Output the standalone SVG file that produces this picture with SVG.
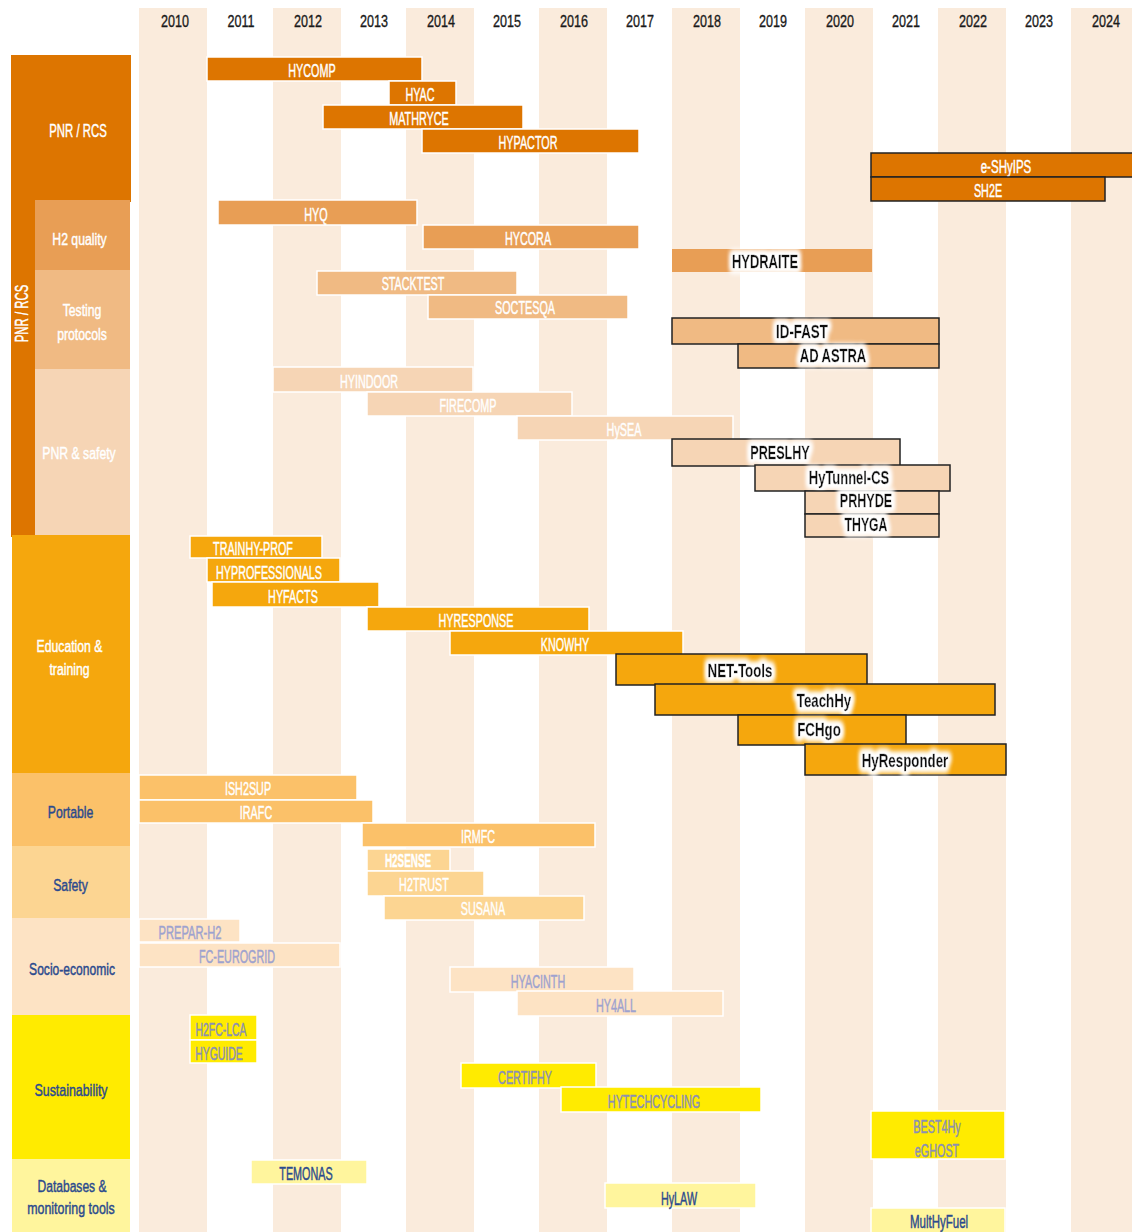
<svg xmlns="http://www.w3.org/2000/svg" width="1132" height="1232" viewBox="0 0 1132 1232">
<style>
.col{fill:#FAEBDC}
.yr{font-family:"Liberation Sans",Arial,sans-serif;font-size:17px;fill:#1a1a1a;stroke:#1a1a1a;stroke-width:.35;text-anchor:middle}
.t{font-family:"Liberation Sans",Arial,sans-serif;font-size:18px;text-anchor:middle}
.c{font-family:"Liberation Sans",Arial,sans-serif;font-size:17px;text-anchor:middle}
.w{fill:#ffffff;stroke:#ffffff;stroke-width:.45}
.n{fill:#2B4A8E;stroke:#2B4A8E;stroke-width:.45}
.l{fill:#9DA2CF;stroke:#9DA2CF;stroke-width:.45}
.s{fill:#8A8FB5;stroke:#8A8FB5;stroke-width:.45}
.b{fill:#111111;stroke:#111111;stroke-width:.3;font-weight:bold;filter:url(#glow)}
.bar{stroke:#ffffff;stroke-width:1.5}
.bk{stroke:#222222;stroke-width:1.5}
.o1{fill:#DD7500}.o2{fill:#E89E55}.o3{fill:#F0BA83}.o4{fill:#F6D5B5}
.ed{fill:#F5A70D}.po{fill:#FBC169}.sa{fill:#FCD592}.so{fill:#FDE3C4}
.su{fill:#FFEB00}.db{fill:#FFF59D}
</style>
<defs>
<filter id="glow" x="-25%" y="-60%" width="150%" height="220%">
<feMorphology in="SourceAlpha" operator="dilate" radius="2.5" result="d"/>
<feGaussianBlur in="d" stdDeviation="3" result="bl"/>
<feFlood flood-color="#ffffff" flood-opacity="1"/>
<feComposite in2="bl" operator="in" result="g"/>
<feMerge><feMergeNode in="g"/><feMergeNode in="g"/><feMergeNode in="g"/><feMergeNode in="SourceGraphic"/></feMerge>
</filter>
</defs>
<rect width="1132" height="1232" fill="#ffffff"/>
<g id="year-columns">
<rect class="col" x="139" y="8" width="68" height="1224"/>
<rect class="col" x="273" y="8" width="68" height="1224"/>
<rect class="col" x="406" y="8" width="68" height="1224"/>
<rect class="col" x="539" y="8" width="68" height="1224"/>
<rect class="col" x="672" y="8" width="68" height="1224"/>
<rect class="col" x="805" y="8" width="68" height="1224"/>
<rect class="col" x="938" y="8" width="68" height="1224"/>
<rect class="col" x="1071" y="8" width="61" height="1224"/>
</g>
<g id="years">
<text class="yr" transform="translate(175 27) scale(.74 1)">2010</text>
<text class="yr" transform="translate(241 27) scale(.74 1)">2011</text>
<text class="yr" transform="translate(308 27) scale(.74 1)">2012</text>
<text class="yr" transform="translate(374 27) scale(.74 1)">2013</text>
<text class="yr" transform="translate(441 27) scale(.74 1)">2014</text>
<text class="yr" transform="translate(507 27) scale(.74 1)">2015</text>
<text class="yr" transform="translate(574 27) scale(.74 1)">2016</text>
<text class="yr" transform="translate(640 27) scale(.74 1)">2017</text>
<text class="yr" transform="translate(707 27) scale(.74 1)">2018</text>
<text class="yr" transform="translate(773 27) scale(.74 1)">2019</text>
<text class="yr" transform="translate(840 27) scale(.74 1)">2020</text>
<text class="yr" transform="translate(906 27) scale(.74 1)">2021</text>
<text class="yr" transform="translate(973 27) scale(.74 1)">2022</text>
<text class="yr" transform="translate(1039 27) scale(.74 1)">2023</text>
<text class="yr" transform="translate(1106 27) scale(.74 1)">2024</text>
</g>
<g id="categories">
<g id="cat-pnr-rcs">
<rect class="o1" x="11" y="55" width="120" height="147"/>
<rect class="o1" x="11" y="200" width="24" height="337"/>
<text class="c w" style="font-size:17.5px" transform="translate(78 137) scale(.65 1)">PNR / RCS</text>
<text class="c w" style="font-size:17.5px" transform="translate(28 313.5) rotate(-90) scale(.65 1)">PNR / RCS</text>
</g>
<g id="cat-h2-quality">
<rect class="o2" x="35" y="200" width="95" height="70"/>
<text class="c w" transform="translate(79.5 245) scale(.72 1)">H2 quality</text>
</g>
<g id="cat-testing">
<rect class="o3" x="35" y="270" width="95" height="99"/>
<text class="c w" transform="translate(82 315.5) scale(.72 1)">Testing</text>
<text class="c w" transform="translate(82 339.5) scale(.72 1)">protocols</text>
</g>
<g id="cat-pnr-safety">
<rect class="o4" x="35" y="369" width="95" height="167"/>
<text class="c w" transform="translate(79 459) scale(.72 1)">PNR &amp; safety</text>
</g>
<g id="cat-education">
<rect class="ed" x="12" y="535" width="118" height="238"/>
<text class="c w" transform="translate(69.5 652) scale(.72 1)">Education &amp;</text>
<text class="c w" transform="translate(69.5 675) scale(.72 1)">training</text>
</g>
<g id="cat-portable">
<rect class="po" x="12" y="773" width="118" height="73"/>
<text class="c n" transform="translate(70.5 818) scale(.72 1)">Portable</text>
</g>
<g id="cat-safety">
<rect class="sa" x="12" y="846" width="118" height="72"/>
<text class="c n" transform="translate(70.5 891) scale(.72 1)">Safety</text>
</g>
<g id="cat-socio">
<rect class="so" x="12" y="918" width="118" height="97"/>
<text class="c n" transform="translate(72 975) scale(.71 1)">Socio-economic</text>
</g>
<g id="cat-sustainability">
<rect class="su" x="12" y="1015" width="118" height="144"/>
<text class="c n" transform="translate(71 1096) scale(.73 1)">Sustainability</text>
</g>
<g id="cat-databases">
<rect class="db" x="12" y="1159" width="118" height="73"/>
<text class="c n" transform="translate(72 1192) scale(.71 1)">Databases &amp;</text>
<text class="c n" transform="translate(71 1214) scale(.73 1)">monitoring tools</text>
</g>
</g>
<g id="connectors"></g>
<g id="bars">
<g id="bar-hycomp"><rect class="o1 bar" x="207" y="57" width="215" height="24"/><text class="t w" transform="translate(312 77) scale(.6 1)">HYCOMP</text></g>
<g id="bar-hyac"><rect class="o1 bar" x="389" y="81" width="67" height="24"/><text class="t w" transform="translate(420 101) scale(.6 1)">HYAC</text></g>
<g id="bar-mathryce"><rect class="o1 bar" x="323" y="105" width="200" height="24"/><text class="t w" transform="translate(419 125) scale(.6 1)">MATHRYCE</text></g>
<g id="bar-hypactor"><rect class="o1 bar" x="422" y="129" width="217" height="24"/><text class="t w" transform="translate(528 149) scale(.6 1)">HYPACTOR</text></g>
<g id="bar-eshyips"><rect class="o1 bk" x="871" y="153" width="262" height="24"/><text class="t w" transform="translate(1006 173) scale(.64 1)">e-SHyIPS</text></g>
<g id="bar-sh2e"><rect class="o1 bk" x="871" y="177" width="234" height="24"/><text class="t w" transform="translate(988 197) scale(.6 1)">SH2E</text></g>

<g id="bar-hyq"><rect class="o2 bar" x="218" y="200" width="199" height="25"/><text class="t w" transform="translate(316 221) scale(.6 1)">HYQ</text></g>
<g id="bar-hycora"><rect class="o2 bar" x="423" y="225" width="216" height="24"/><text class="t w" transform="translate(528 245) scale(.6 1)">HYCORA</text></g>
<g id="bar-hydraite"><rect class="o2" x="672" y="249" width="200" height="23"/><text class="t b" transform="translate(765 268) scale(.72 1)">HYDRAITE</text></g>

<g id="bar-stacktest"><rect class="o3 bar" x="317" y="271" width="200" height="24"/><text class="t w" transform="translate(413 290) scale(.6 1)">STACKTEST</text></g>
<g id="bar-soctesqa"><rect class="o3 bar" x="428" y="295" width="200" height="24"/><text class="t w" transform="translate(525 314) scale(.6 1)">SOCTESQA</text></g>
<g id="bar-idfast"><rect class="o3 bk" x="672" y="318" width="267" height="26"/><text class="t b" transform="translate(802 338) scale(.74 1)">ID-FAST</text></g>
<g id="bar-adastra"><rect class="o3 bk" x="738" y="344" width="201" height="24"/><text class="t b" transform="translate(833 362) scale(.72 1)">AD ASTRA</text></g>

<g id="bar-hyindoor"><rect class="o4 bar" x="273" y="367" width="200" height="25"/><text class="t w" transform="translate(369 388) scale(.6 1)">HYINDOOR</text></g>
<g id="bar-firecomp"><rect class="o4 bar" x="367" y="392" width="205" height="24"/><text class="t w" transform="translate(468 412) scale(.6 1)">FIRECOMP</text></g>
<g id="bar-hysea"><rect class="o4 bar" x="517" y="416" width="216" height="24"/><text class="t w" transform="translate(624 436) scale(.6 1)">HySEA</text></g>
<g id="bar-preslhy"><rect class="o4 bk" x="672" y="439" width="228" height="27"/><text class="t b" transform="translate(780 459) scale(.7 1)">PRESLHY</text></g>
<g id="bar-hytunnel"><rect class="o4 bk" x="755" y="465" width="195" height="26"/><text class="t b" transform="translate(849 484) scale(.72 1)">HyTunnel-CS</text></g>
<g id="bar-prhyde"><rect class="o4 bk" x="805" y="491" width="134" height="23"/><text class="t b" transform="translate(866 507) scale(.7 1)">PRHYDE</text></g>
<g id="bar-thyga"><rect class="o4 bk" x="805" y="514" width="134" height="23"/><text class="t b" transform="translate(866 531) scale(.68 1)">THYGA</text></g>

<g id="bar-trainhy"><rect class="ed bar" x="190" y="536" width="132" height="22"/><text class="t w" transform="translate(253 555) scale(.6 1)">TRAINHY-PROF</text></g>
<g id="bar-hyprofessionals"><rect class="ed bar" x="207" y="558" width="133" height="24"/><text class="t w" transform="translate(269 579) scale(.6 1)">HYPROFESSIONALS</text></g>
<g id="bar-hyfacts"><rect class="ed bar" x="212" y="582" width="167" height="25"/><text class="t w" transform="translate(293 603) scale(.6 1)">HYFACTS</text></g>
<g id="bar-hyresponse"><rect class="ed bar" x="367" y="607" width="222" height="24"/><text class="t w" transform="translate(476 627) scale(.6 1)">HYRESPONSE</text></g>
<g id="bar-knowhy"><rect class="ed bar" x="450" y="631" width="233" height="24"/><text class="t w" transform="translate(565 651) scale(.6 1)">KNOWHY</text></g>
<g id="bar-nettools"><rect class="ed bk" x="616" y="654" width="251" height="31"/><text class="t b" transform="translate(740 677) scale(.74 1)">NET-Tools</text></g>
<g id="bar-teachhy"><rect class="ed bk" x="655" y="684" width="340" height="31"/><text class="t b" transform="translate(824 707) scale(.74 1)">TeachHy</text></g>
<g id="bar-fchgo"><rect class="ed bk" x="738" y="715" width="168" height="30"/><text class="t b" transform="translate(819 736) scale(.74 1)">FCHgo</text></g>
<g id="bar-hyresponder"><rect class="ed bk" x="805" y="744" width="201" height="31"/><text class="t b" transform="translate(905 767) scale(.74 1)">HyResponder</text></g>

<g id="bar-ish2sup"><rect class="po bar" x="139" y="775" width="218" height="25"/><text class="t w" transform="translate(248 795) scale(.6 1)">ISH2SUP</text></g>
<g id="bar-irafc"><rect class="po bar" x="139" y="800" width="234" height="23"/><text class="t w" transform="translate(256 819) scale(.6 1)">IRAFC</text></g>
<g id="bar-irmfc"><rect class="po bar" x="362" y="823" width="233" height="24"/><text class="t w" transform="translate(478 843) scale(.6 1)">IRMFC</text></g>

<g id="bar-h2sense"><rect class="sa bar" x="367" y="849" width="83" height="22"/><text class="t w" style="font-weight:bold" transform="translate(408 867) scale(.55 1)">H2SENSE</text></g>
<g id="bar-h2trust"><rect class="sa bar" x="367" y="871" width="117" height="25"/><text class="t w" transform="translate(424 891) scale(.6 1)">H2TRUST</text></g>
<g id="bar-susana"><rect class="sa bar" x="384" y="896" width="200" height="24"/><text class="t w" transform="translate(483 915) scale(.6 1)">SUSANA</text></g>

<g id="bar-preparh2"><rect class="so bar" x="139" y="919" width="101" height="23"/><text class="t l" transform="translate(190 939) scale(.62 1)">PREPAR-H2</text></g>
<g id="bar-fceurogrid"><rect class="so bar" x="139" y="943" width="201" height="24"/><text class="t l" transform="translate(237 963) scale(.6 1)">FC-EUROGRID</text></g>
<g id="bar-hyacinth"><rect class="so bar" x="450" y="967" width="184" height="25"/><text class="t l" transform="translate(538 988) scale(.6 1)">HYACINTH</text></g>
<g id="bar-hy4all"><rect class="so bar" x="517" y="991" width="206" height="25"/><text class="t l" transform="translate(616 1012) scale(.6 1)">HY4ALL</text></g>

<g id="bar-h2fclca"><rect class="su bar" x="190" y="1015" width="67" height="25"/><text class="t s" transform="translate(221 1036) scale(.58 1)">H2FC-LCA</text></g>
<g id="bar-hyguide"><rect class="su bar" x="190" y="1040" width="67" height="23"/><text class="t s" transform="translate(219 1060) scale(.58 1)">HYGUIDE</text></g>
<g id="bar-certifhy"><rect class="su bar" x="461" y="1063" width="135" height="25"/><text class="t s" transform="translate(525 1084) scale(.6 1)">CERTIFHY</text></g>
<g id="bar-hytechcycling"><rect class="su bar" x="561" y="1087" width="200" height="25"/><text class="t s" transform="translate(654 1108) scale(.6 1)">HYTECHCYCLING</text></g>
<g id="bar-best4hy"><rect class="su bar" x="871" y="1111" width="134" height="48"/><text class="t s" transform="translate(937 1133) scale(.6 1)">BEST4Hy</text><text class="t s" transform="translate(937 1157) scale(.6 1)">eGHOST</text></g>

<g id="bar-temonas"><rect class="db bar" x="251" y="1160" width="116" height="24"/><text class="t n" transform="translate(306 1180) scale(.6 1)">TEMONAS</text></g>
<g id="bar-hylaw"><rect class="db bar" x="605" y="1183" width="151" height="25"/><text class="t n" transform="translate(679 1205) scale(.6 1)">HyLAW</text></g>
<g id="bar-multhyfuel"><rect class="db bar" x="871" y="1208" width="134" height="25"/><text class="t n" transform="translate(939 1228) scale(.64 1)">MultHyFuel</text></g>
</g>
</svg>
